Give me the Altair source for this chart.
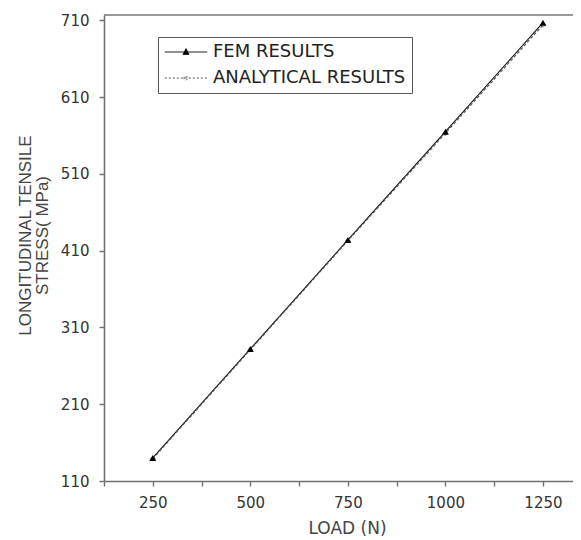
import altair as alt
import pandas as pd

# ---- data ----
loads = [250, 500, 750, 1000, 1250]
fem_stress = [140, 282, 424, 565, 707]
analytical_stress = [139, 281, 423, 563, 704]
series_names = ["FEM RESULTS", "ANALYTICAL RESULTS"]
x_tick_values = [125, 250, 375, 500, 625, 750, 875, 1000, 1125, 1250]
y_tick_values = [110, 210, 310, 410, 510, 610, 710]

df = pd.DataFrame({
    "load": loads + loads,
    "stress": fem_stress + analytical_stress,
    "series": [series_names[0]] * len(loads) + [series_names[1]] * len(loads),
})

W, H = 469, 466
FONT = "DejaVu Sans"

xscale = alt.Scale(domain=[125, 1327], nice=False, zero=False)
yscale = alt.Scale(domain=[110, 717], nice=False, zero=False)

x_enc = alt.X(
    "load:Q", scale=xscale,
    axis=alt.Axis(
        values=x_tick_values, format="d",
        labelExpr="datum.value % 250 == 0 ? datum.label : ''",
        title="LOAD (N)", titleX=243, titleY=39, titleAlign="center",
        titleBaseline="top", titleFont=FONT, titleFontSize=17,
        labelPadding=9,
    ),
)
y_enc = alt.Y(
    "stress:Q", scale=yscale,
    axis=alt.Axis(
        values=y_tick_values, format="d",
        title=["LONGITUDINAL TENSILE", "STRESS( MPa)"],
        titleAngle=270, titleX=-87, titleY=220, titleAlign="center",
        titleBaseline="top", titleFont="Liberation Sans", titleFontSize=17,
        titleLineHeight=17, labelPadding=10,
    ),
)

base = alt.Chart(df)

fem_line = base.transform_filter(alt.datum.series == series_names[0]).mark_line(
    color="#111111", strokeWidth=1.1
).encode(x=x_enc, y=y_enc)

ana_line = base.transform_filter(alt.datum.series == series_names[1]).mark_line(
    color="#555555", strokeWidth=1.2, strokeDash=[3, 2]
).encode(x=x_enc, y=y_enc)

ana_pts = base.transform_filter(alt.datum.series == series_names[1]).mark_point(
    shape="diamond", size=22, color="#555555", filled=False, strokeWidth=1
).encode(x=x_enc, y=y_enc)

fem_pts = base.transform_filter(alt.datum.series == series_names[0]).mark_point(
    shape="triangle-up", size=48, color="#000000", filled=True, opacity=1
).encode(x=x_enc, y=y_enc)

# legend symbols: line segment with marker
fem_sym = "M-2.65,0L2.65,0M-0.38,0.3L0,-0.42L0.38,0.3Z"
ana_sym = "M-2.65,0L2.65,0M-0.3,0L0,-0.3L0.3,0L0,0.3Z"

leg = alt.Legend(
    title=None, orient="none", legendX=54, legendY=22,
    strokeColor="#555555", padding=6, fillColor="white",
    symbolSize=256, symbolStrokeWidth=1, symbolOpacity=1,
    symbolOffset=13, labelOffset=18, rowPadding=8, labelLimit=0,
    labelFont=FONT, labelFontSize=18, labelColor="#222222",
)
legend_layer = base.mark_point(opacity=0, filled=True, size=256).encode(
    x=x_enc, y=y_enc,
    shape=alt.Shape("series:N", scale=alt.Scale(domain=series_names, range=[fem_sym, ana_sym]), legend=leg),
    fill=alt.Fill("series:N", scale=alt.Scale(domain=series_names, range=["#000000", "#ffffff"]), legend=leg),
    stroke=alt.Stroke("series:N", scale=alt.Scale(domain=series_names, range=["#111111", "#555555"]), legend=leg),
    strokeDash=alt.StrokeDash("series:N", scale=alt.Scale(domain=series_names, range=[[1, 0], [2, 2]]), legend=leg),
)

top_border = alt.Chart(pd.DataFrame({"edge": ["top"]})).mark_rule(
    color="#777777", strokeWidth=1.5
).encode(x=alt.value(0), x2=alt.value(W), y=alt.value(0))

chart = alt.layer(
    top_border, fem_line, ana_line, ana_pts, fem_pts, legend_layer
).properties(
    width=W, height=H,
    autosize=alt.AutoSizeParams(type="none"),
    padding={"left": 96, "top": 7, "right": 0, "bottom": 58},
).configure_view(stroke=None).configure_axis(
    grid=False, domainColor="#707070", domainWidth=1.6,
    tickColor="#707070", tickWidth=1.4, tickSize=5,
    labelFont=FONT, labelFontSize=15, labelColor="#333333",
    titleColor="#444444", titleFontWeight="normal",
)

chart.save("out.html", embed_options={"renderer": "svg", "actions": False})
